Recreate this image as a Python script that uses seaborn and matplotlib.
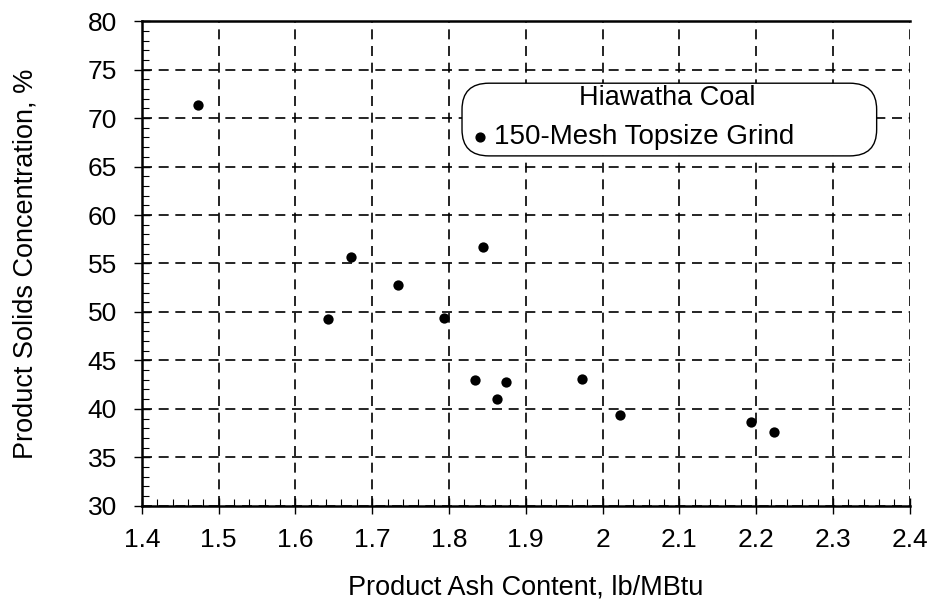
import matplotlib
matplotlib.use("Agg")
import matplotlib.pyplot as plt
import seaborn as sns
import pandas as pd
import numpy as np
from matplotlib.ticker import MultipleLocator
from matplotlib.patches import FancyBboxPatch

ash = [1.473, 1.643, 1.673, 1.733, 1.793, 1.834, 1.844, 1.863, 1.874, 1.973, 2.023, 2.193, 2.223]
solids = [71.4, 49.25, 55.7, 52.8, 49.4, 43.0, 56.7, 41.0, 42.8, 43.1, 39.4, 38.6, 37.6]
series_name = "150-Mesh Topsize Grind"
legend_title = "Hiawatha Coal"
xticks = [1.4, 1.5, 1.6, 1.7, 1.8, 1.9, 2.0, 2.1, 2.2, 2.3, 2.4]
xticklabels = ["1.4", "1.5", "1.6", "1.7", "1.8", "1.9", "2", "2.1", "2.2", "2.3", "2.4"]
yticks = [30, 35, 40, 45, 50, 55, 60, 65, 70, 75, 80]

sns.set_style("white")
plt.rcParams['font.family'] = ['Liberation Sans', 'DejaVu Sans']
plt.rcParams['text.color'] = 'black'
plt.rcParams['axes.labelcolor'] = 'black'
plt.rcParams['xtick.color'] = 'black'
plt.rcParams['ytick.color'] = 'black'

df = pd.DataFrame({"ash": ash, "solids": solids, "series": series_name})

fig = plt.figure(figsize=(9.33, 6.05), dpi=100)
ax = fig.add_axes([0.152, 0.164, 0.823, 0.801])

sns.scatterplot(data=df, x="ash", y="solids", color="black", s=55,
                edgecolor="black", linewidth=0, ax=ax, legend=False, zorder=3)

ax.set_xlim(1.4, 2.4)
ax.set_ylim(30, 80)
ax.set_xticks(xticks)
ax.set_xticklabels(xticklabels)
ax.set_yticks(yticks)
ax.xaxis.set_minor_locator(MultipleLocator(0.02))
ax.yaxis.set_minor_locator(MultipleLocator(1))

ax.grid(True, which="major", color="black", linestyle=(0, (6, 4)), linewidth=1.2)
ax.tick_params(axis="both", which="major", direction="inout", length=12, width=1,
               labelsize=19, colors="black")
ax.tick_params(axis="x", which="major", pad=10)
ax.tick_params(axis="y", which="major", pad=12)
ax.tick_params(axis="both", which="minor", direction="in", length=5, width=0.8, colors="black")
ax.tick_params(axis="y", which="both", left=True)
ax.tick_params(axis="x", which="both", bottom=True)

for side in ["left", "bottom", "top"]:
    ax.spines[side].set_color("black")
    ax.spines[side].set_linewidth(1.8)
ax.spines["right"].set_visible(False)

ax.set_xlabel("Product Ash Content, lb/MBtu", fontsize=19.5, va="center", color="black")
ax.set_ylabel("Product Solids Concentration, %", fontsize=19.5, va="center", color="black")
ax.xaxis.set_label_coords(0.5, -0.169)
ax.yaxis.set_label_coords(-0.152, 0.5)

# Legend box
box = FancyBboxPatch((0.417, 0.722), 0.54, 0.15, transform=ax.transAxes,
                     boxstyle="round,pad=0,rounding_size=0.035",
                     facecolor="white", edgecolor="black", linewidth=1.0, zorder=4,
                     mutation_aspect=1.55)
ax.add_patch(box)
ax.text(0.684, 0.841, legend_title, transform=ax.transAxes, ha="center", va="center",
        fontsize=19.5, zorder=5, color="black")
ax.scatter([0.441], [0.761], transform=ax.transAxes, s=40, color="black", zorder=5)
ax.text(0.459, 0.761, series_name, transform=ax.transAxes, ha="left", va="center",
        fontsize=20, zorder=5, color="black")

fig.savefig("out.png", dpi=100)
